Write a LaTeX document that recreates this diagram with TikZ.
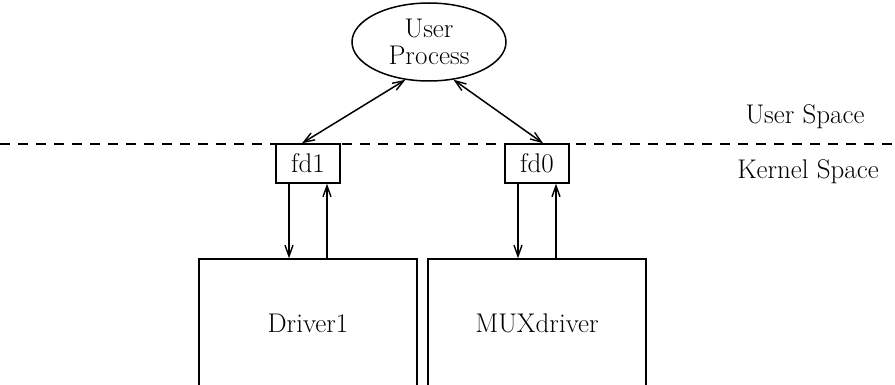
\documentclass[tikz,border=0pt]{standalone}
\usepackage{fontspec}
\setmainfont{Latin Modern Roman}
\usetikzlibrary{shapes.geometric,arrows.meta}
\begin{document}
\begin{tikzpicture}[x=1pt,y=-1pt,
  every node/.style={font=\fontsize{27}{27}\selectfont},
  arr/.style={line width=1.5pt, -{Straight Barb[length=11pt,width=8pt,line width=1.4pt]}},
  darr/.style={line width=1.5pt, {Straight Barb[length=11pt,width=8pt,line width=1.4pt]}-{Straight Barb[length=11pt,width=8pt,line width=1.4pt]}},
  fdbox/.style={draw, line width=1.5pt, minimum width=64pt, minimum height=39pt, inner sep=0pt},
  drvbox/.style={draw, line width=1.5pt, minimum width=218pt, minimum height=128pt, inner sep=0pt},
  lbl/.style={inner sep=0pt}]
\useasboundingbox (0,0) rectangle (895,385);
\clip (0,0) rectangle (895,385);
\node[ellipse, draw, line width=1.5pt, minimum width=154pt, minimum height=78pt, inner sep=0pt, align=center] (up) at (429,42) {User\\Process};
\coordinate (dl) at (0,144);
\coordinate (dr) at (895,144);
\draw[line width=1.5pt, dash pattern=on 10pt off 8pt] (dl) -- (dr);
\node[fdbox] (fd1) at (308,163.5) {fd1};
\node[fdbox] (fd0) at (537,163.5) {fd0};
\node[drvbox] (drv1) at (308,323) {Driver1};
\node[drvbox] (mux) at (537,323) {MUXdriver};
\node[lbl] (us) at (805,117) {User Space};
\node[lbl] (ks) at (808,172) {Kernel Space};
\draw[darr] (up.238) -- ([xshift=-6pt]fd1.north);
\draw[darr] (up.303) -- ([xshift=6pt]fd0.north);
\draw[arr] ([xshift=-19pt]fd1.south) -- ([xshift=-19pt]drv1.north);
\draw[arr] ([xshift=19pt]drv1.north) -- ([xshift=19pt]fd1.south);
\draw[arr] ([xshift=-19pt]fd0.south) -- ([xshift=-19pt]mux.north);
\draw[arr] ([xshift=19pt]mux.north) -- ([xshift=19pt]fd0.south);
\end{tikzpicture}
\end{document}
